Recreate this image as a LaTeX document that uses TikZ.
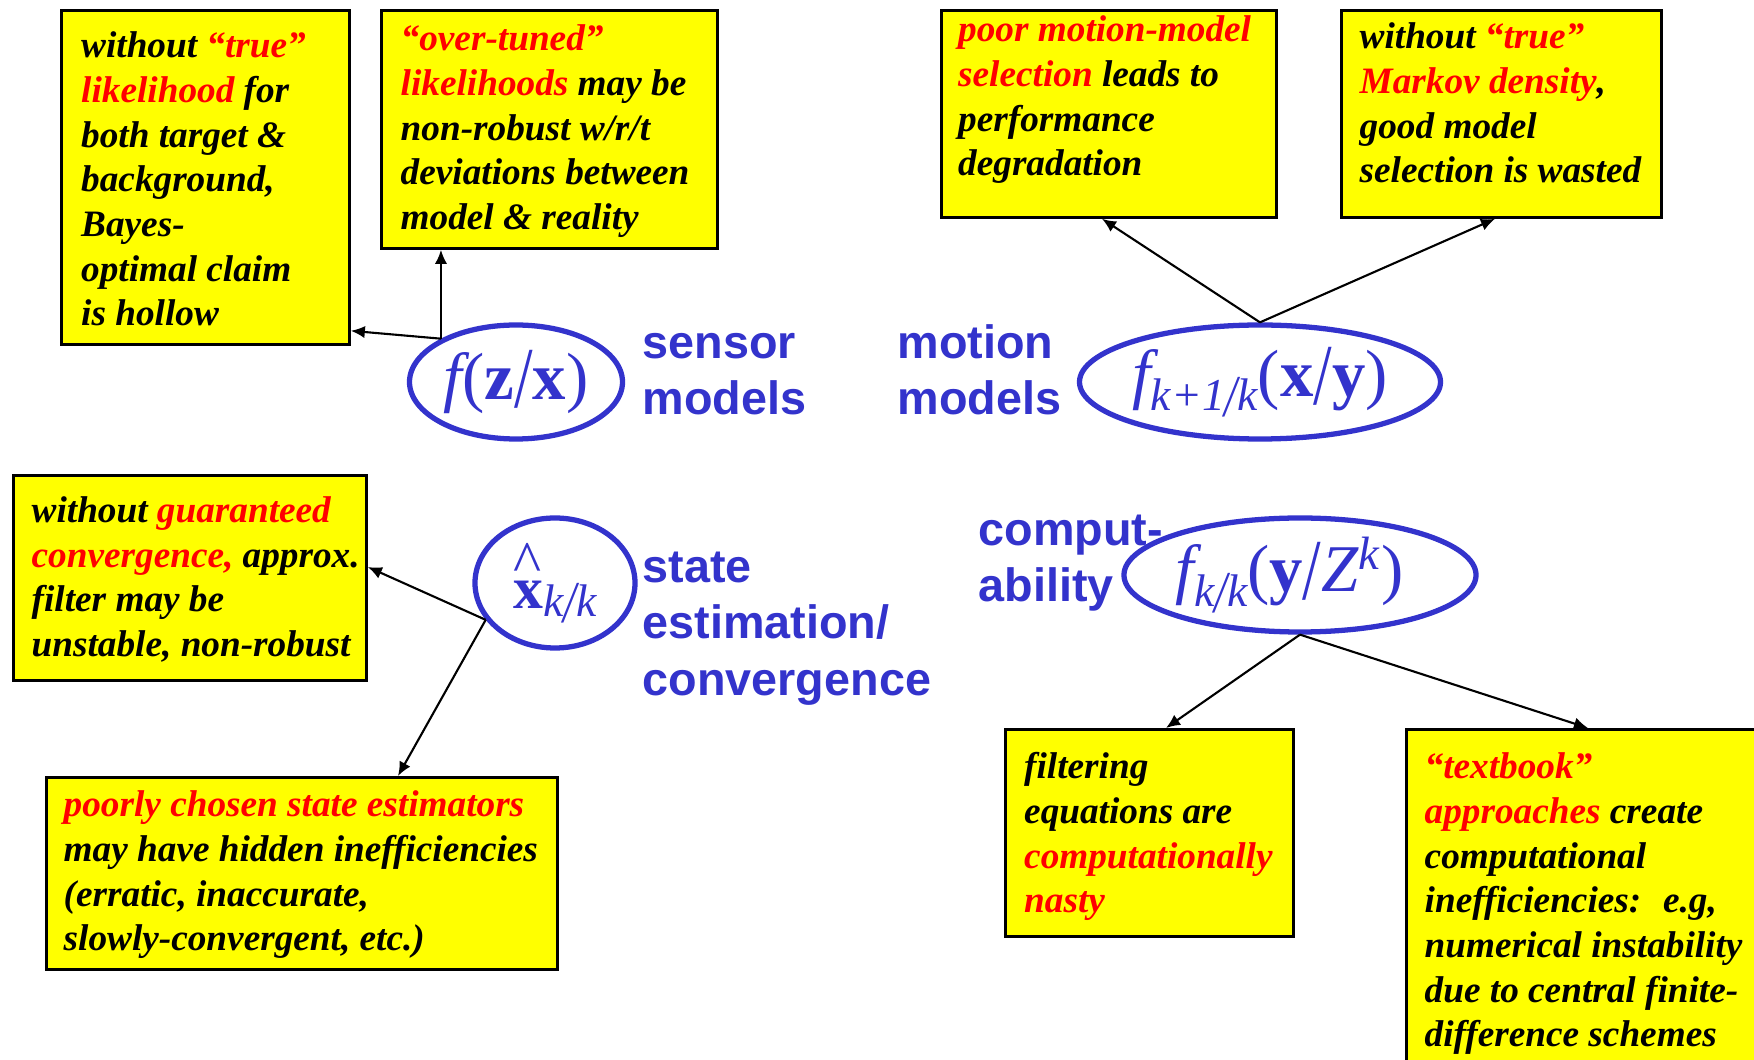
\documentclass[tikz,border=0pt]{standalone}
\usepackage{fontspec}
\setmainfont{Liberation Serif}
\newfontfamily\labelsans{Liberation Sans}
\usepackage{tikz}
\usetikzlibrary{shapes.geometric, arrows.meta, positioning}

\definecolor{modelblue}{RGB}{51,51,204}
\definecolor{noteyellow}{RGB}{255,255,0}
\newcommand{\redtxt}[1]{\textcolor{red}{#1}}
% long slash for the densities
\newcommand{\tallslash}{\raisebox{-0.25ex}{\scalebox{1}[1.3]{/}}}

\begin{document}
\begin{tikzpicture}[
    note/.style={draw, line width=0.8pt, fill=noteyellow, anchor=north west, inner sep=0pt},
    notetext/.style={anchor=north west, align=left, inner sep=0pt,
        font=\fontsize{10.6}{12.7}\selectfont\bfseries\itshape},
    model/.style={ellipse, draw=modelblue, line width=1.5pt, inner sep=0pt,
        text=modelblue, font=\fontsize{19}{22}\selectfont},
    tag/.style={anchor=north west, align=left, inner sep=0pt, text=modelblue,
        font=\labelsans\bfseries\fontsize{13.3}{16}\selectfont},
    link/.style={-{Latex[length=4pt,width=3.5pt]}, line width=0.6pt}
]
    \useasboundingbox (0,0) rectangle (17.54,-10.60);

    % sensor models
    \node[model, minimum width=2.13cm, minimum height=1.14cm] (sensmod) at (5.16,-3.82)
        {{\itshape f}(\textbf{z}\tallslash\textbf{x})};
    \node[tag] (senstag) at (6.42,-3.186) {\strut sensor\\models};

    % motion models
    \node[model, minimum width=3.56cm, minimum height=1.14cm] (motmod) at (12.60,-3.82)
        {{\itshape f}\raisebox{-0.45ex}{\fontsize{13}{15}\selectfont\itshape k+1\tallslash k}(\textbf{x}\tallslash\textbf{y})};
    \node[tag] (mottag) at (8.97,-3.186) {\strut motion\\models};

    % state estimate
    \node[model, minimum width=1.60cm, minimum height=1.30cm, font=\fontsize{17}{20}\selectfont] (esthat) at (5.55,-5.83)
        {\makebox[0pt][l]{\raisebox{7.5pt}{\fontsize{17}{20}\selectfont\textasciicircum}}\textbf{x}\raisebox{-2.3pt}{\fontsize{13}{15}\selectfont\itshape k\tallslash k}};
    \node[tag] (esttag) at (6.42,-5.426) {\strut state\\estimation/\\convergence};

    % computability
    \node[model, minimum width=3.10cm, minimum height=1.14cm] (filtmod) at (13.00,-5.75)
        {{\itshape f}\raisebox{-0.5ex}{\fontsize{13}{15}\selectfont\itshape k\tallslash k}(\textbf{y}\tallslash{\itshape Z}\textsuperscript{\itshape k})\kern6pt};
    \node[tag] (comptag) at (9.78,-5.05) {\strut comput-\\ability};

    % notes on the sensor side
    \node[note, minimum width=2.88cm, minimum height=3.34cm] (likebox) at (0.60,-0.09) {};
    \node[notetext] (liketext) at ([shift={(0.205,-0.17)}]likebox.north west)
        {\strut without \redtxt{“true”}\\ \redtxt{likelihood} for\\ both target \&\\ background,\\ Bayes-\\ optimal claim\\ is hollow};
    \node[note, minimum width=3.36cm, minimum height=2.38cm] (tunebox) at (3.80,-0.09) {};
    \node[notetext] (tunetext) at ([shift={(0.20,-0.10)}]tunebox.north west)
        {\strut\redtxt{“over-tuned”}\\ \redtxt{likelihoods} may be\\ non-robust w/r/t\\ deviations between\\ model \& reality};

    % notes on the motion side
    \node[note, minimum width=3.35cm, minimum height=2.07cm] (selbox) at (9.40,-0.09) {};
    \node[notetext] (seltext) at ([shift={(0.175,-0.01)}]selbox.north west)
        {\strut\redtxt{poor motion-model}\\ \redtxt{selection} leads to\\ performance\\ degradation};
    \node[note, minimum width=3.20cm, minimum height=2.07cm] (markbox) at (13.40,-0.09) {};
    \node[notetext] (marktext) at ([shift={(0.19,-0.08)}]markbox.north west)
        {\strut without \redtxt{“true”}\\ \redtxt{Markov density},\\ good model\\ selection is wasted};

    % notes on estimation
    \node[note, minimum width=3.53cm, minimum height=2.05cm] (convbox) at (0.12,-4.74) {};
    \node[notetext] (convtext) at ([shift={(0.19,-0.165)}]convbox.north west)
        {\strut without \redtxt{guaranteed}\\ \redtxt{convergence,} approx.\\ filter may be\\ unstable, non-robust};
    \node[note, minimum width=5.11cm, minimum height=1.92cm] (estbox) at (0.45,-7.76) {};
    \node[notetext] (esttext) at ([shift={(0.18,-0.09)}]estbox.north west)
        {\strut\redtxt{poorly chosen state estimators}\\ may have hidden inefficiencies\\ (erratic, inaccurate,\\ slowly-convergent, etc.)};

    % notes on computability
    \node[note, minimum width=2.88cm, minimum height=2.07cm] (filtbox) at (10.04,-7.28) {};
    \node[notetext] (filttext) at ([shift={(0.195,-0.19)}]filtbox.north west)
        {\strut filtering\\ equations are\\ \redtxt{computationally}\\ \redtxt{nasty}};
    \node[note, minimum width=3.60cm, minimum height=3.50cm] (bookbox) at (14.05,-7.28) {};
    \node[notetext] (booktext) at ([shift={(0.19,-0.19)}]bookbox.north west)
        {\strut\redtxt{“textbook”}\\ \redtxt{approaches} create\\ computational\\ inefficiencies:~ e.g,\\ numerical instability\\ due to central finite-\\ difference schemes};

    % arrows
    \draw[link] (sensmod.150) -- ([yshift=0.15cm]likebox.south east);
    \draw[link] (sensmod.150) -- (sensmod.150 |- tunebox.south);
    \draw[link] (motmod.north) -- ([xshift=1.62cm]selbox.south west);
    \draw[link] (motmod.north) -- ([xshift=1.55cm]markbox.south west);
    \draw[link] (esthat.208) -- ([yshift=-0.93cm]convbox.north east);
    \draw[link] (esthat.208) -- ([xshift=3.53cm]estbox.north west);
    \draw[link] (filtmod.south) -- ([xshift=1.62cm]filtbox.north west);
    \draw[link] (filtmod.south) -- ([xshift=1.83cm]bookbox.north west);
\end{tikzpicture}
\end{document}
